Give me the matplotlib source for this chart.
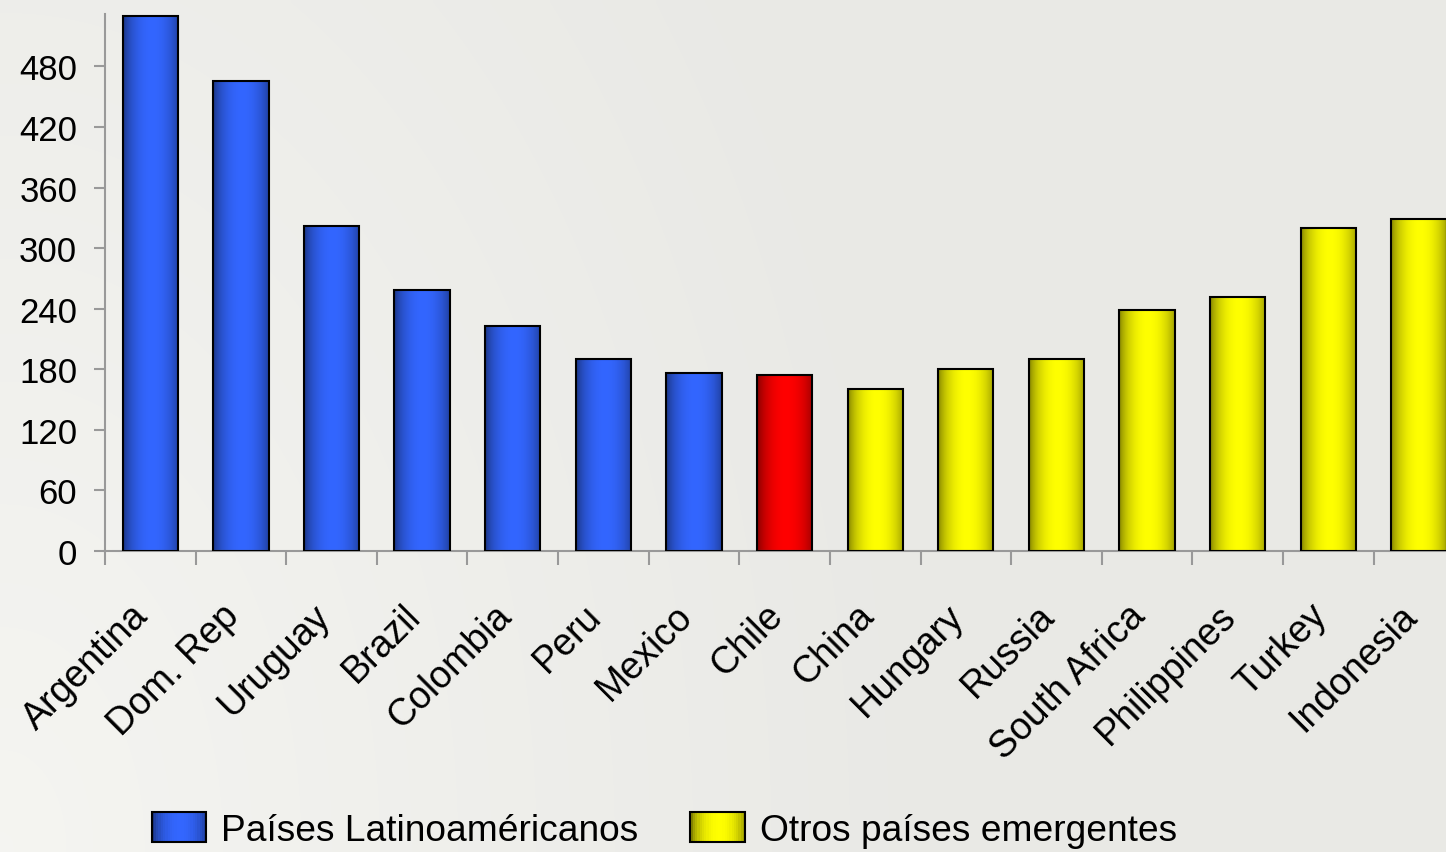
import numpy as np
import matplotlib.pyplot as plt
from matplotlib.patches import Rectangle
from matplotlib.legend_handler import HandlerBase
from matplotlib.colors import to_rgb
from matplotlib.transforms import ScaledTranslation

plt.rcParams['font.family'] = ['Liberation Sans', 'DejaVu Sans']

# Datos
countries = ['Argentina', 'Dom. Rep', 'Uruguay', 'Brazil', 'Colombia', 'Peru', 'Mexico',
             'Chile', 'China', 'Hungary', 'Russia', 'South Africa', 'Philippines',
             'Turkey', 'Indonesia']
values = [530, 466, 322, 259, 223, 190, 176, 174, 160, 180, 190, 239, 252, 320, 329]
groups = ['latam'] * 7 + ['chile'] + ['otros'] * 7
yticks = [0, 60, 120, 180, 240, 300, 360, 420, 480]

colors = {'latam': '#3366ff', 'chile': '#ff0000', 'otros': '#ffff00'}
labels = {'latam': 'Países Latinoaméricanos', 'otros': 'Otros países emergentes'}


# Perfil de brillo tipo cilindro (oscuro en los bordes)
def shade(color, n=64):
    base = np.array(to_rgb(color))
    u = np.linspace(0, 1, n)
    k = 0.35 + 0.65 * np.clip(np.sin(np.pi * (u * 0.92 + 0.02)), 0, 1) ** 0.5
    return base[None, :] * k[:, None]


class GradientHandler(HandlerBase):
    def __init__(self, color):
        super().__init__()
        self.color = color

    def create_artists(self, legend, orig_handle, xdescent, ydescent, width, height, fontsize, trans):
        cols = shade(self.color, 24)
        n = len(cols)
        arts = []
        for i, c in enumerate(cols):
            arts.append(Rectangle((-xdescent + width * i / n, -ydescent), width / n + 0.3, height,
                                  facecolor=c, edgecolor='none', transform=trans))
        arts.append(Rectangle((-xdescent, -ydescent), width, height, facecolor='none',
                              edgecolor='black', lw=1.5, transform=trans))
        return arts


fig = plt.figure(figsize=(14.46, 8.53), dpi=100)

# fondo: gris claro, más blanco hacia la izquierda
bg = fig.add_axes([0, 0, 1, 1], zorder=-10)
gx, gy = np.meshgrid(np.linspace(0, 1, 200), np.linspace(0, 1, 120))
light = np.clip(1 - np.hypot(gx * 1.6, (1 - gy) * 0.6), 0, 1)
lum = 0.915 + 0.045 * light
bgimg = np.dstack([lum, lum, lum * 0.985])
bg.imshow(bgimg, extent=[0, 1, 0, 1], aspect='auto', origin='upper', interpolation='bilinear')
bg.set_axis_off()

ax = fig.add_axes([0.0726, 0.3529, 0.94, 0.6295])
ax.set_facecolor('none')

x = np.arange(len(countries))
bars = ax.bar(x, values, width=0.61, facecolor='none', edgecolor='black', linewidth=1.5, zorder=3)
for rect, g in zip(bars, groups):
    x0 = rect.get_x()
    grad = shade(colors[g])[None, :, :]
    im = ax.imshow(grad, extent=[x0, x0 + rect.get_width(), 0, rect.get_height()],
                   aspect='auto', zorder=2, interpolation='bilinear')
    im.set_clip_path(rect)

ax.set_xlim(-0.5, len(countries) - 0.5)
ax.set_ylim(0, 532)
ax.set_yticks(yticks)
ax.tick_params(axis='y', labelsize=25, length=8, width=1.5, color='#999999', pad=12)

ax.set_xticks(x)
ax.set_xticklabels(countries, rotation=45, ha='right', va='top', rotation_mode='anchor')
ax.tick_params(axis='x', which='major', length=0, labelsize=27, pad=26)
ax.set_xticks(np.arange(-0.5, len(countries), 1), minor=True)
ax.tick_params(axis='x', which='minor', length=10, width=1.5, color='#999999')
offset = ScaledTranslation(-0.2, -0.1, fig.dpi_scale_trans)
for lab in ax.xaxis.get_majorticklabels():
    lab.set_transform(lab.get_transform() + offset)

for s in ['top', 'right']:
    ax.spines[s].set_visible(False)
for s in ['left', 'bottom']:
    ax.spines[s].set_color('#999999')
    ax.spines[s].set_linewidth(1.5)

h1 = Rectangle((0, 0), 1, 1)
h2 = Rectangle((0, 0), 1, 1)
fig.legend([h1, h2], [labels['latam'], labels['otros']],
           handler_map={h1: GradientHandler(colors['latam']), h2: GradientHandler(colors['otros'])},
           loc='center left', bbox_to_anchor=(0.092, 0.026), ncol=2, frameon=False, borderpad=0,
           fontsize=26.7, handlelength=1.48, handleheight=0.85, columnspacing=1.4, handletextpad=0.4)

fig.savefig('out.png', dpi=100)
